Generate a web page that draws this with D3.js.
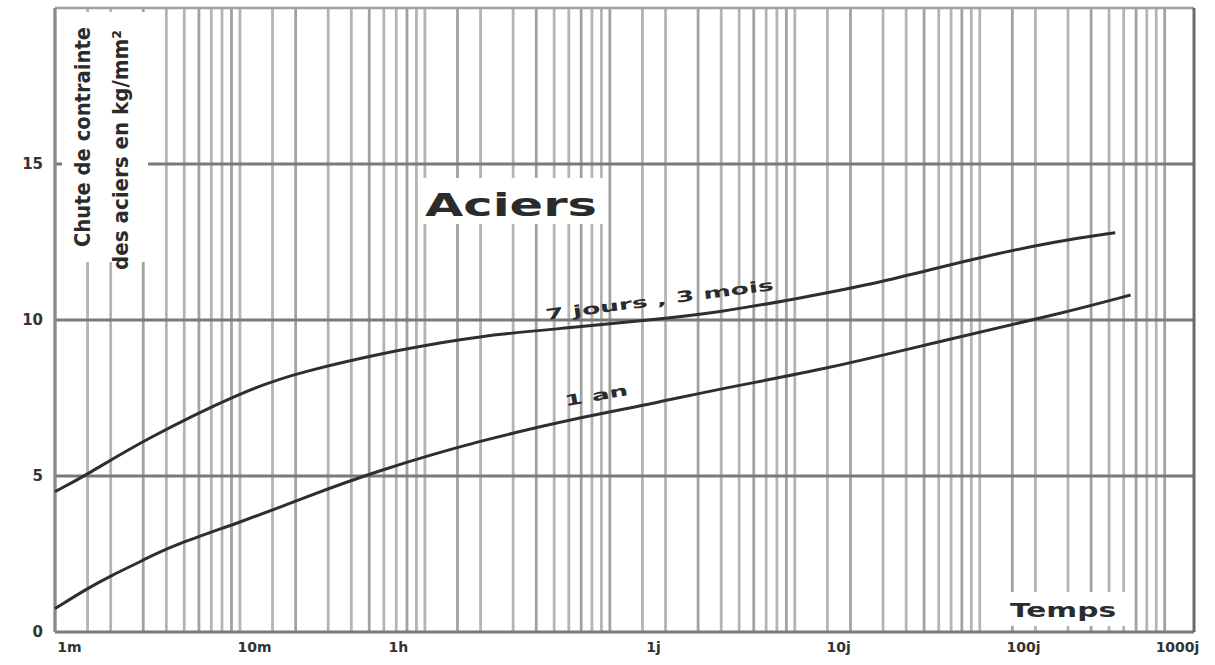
<!DOCTYPE html>
<html>
<head>
  <meta charset="UTF-8">
  <title>Aciers</title>
  <script src="https://d3js.org/d3.v7.min.js"></script>
  <style>
    body { margin: 0; background: #fff; }
    text { font-family: "DejaVu Sans", sans-serif; fill: #2b2b2b; }
  </style>
</head>
<body>
  <script>
    // time in minutes (log scale), value in kg/mm2
    var tickTimes = [1, 10, 60, 1440, 14400, 144000, 1440000];
    var tickLabels = ["1m", "10m", "1h", "1j", "10j", "100j", "1000j"];
    var yTicks = [0, 5, 10, 15];
    var gridSteps = [1, 1.5, 2, 3, 4, 5, 6, 7, 8, 9];

    var upperTimes = [1, 1.5, 3, 10.6, 21, 72, 200, 607, 1650, 3950, 10600, 29300, 89000, 273000, 540000];
    var upperValues = [4.5, 5.05, 6.15, 7.75, 8.33, 9.05, 9.5, 9.75, 10.0, 10.25, 10.7, 11.2, 11.95, 12.55, 12.8];

    var lowerTimes = [1, 1.5, 2, 3, 4.2, 11, 21, 54, 200, 785, 1650, 3950, 15500, 69500, 273000, 654000];
    var lowerValues = [0.75, 1.4, 1.8, 2.3, 2.75, 3.6, 4.25, 5.15, 6.15, 6.95, 7.3, 7.8, 8.45, 9.4, 10.2, 10.8];

    var W = 1215, H = 665;
    var m = { left: 55, right: 1194, top: 8, bottom: 632 };

    var svg = d3.select("body").append("svg")
      .attr("width", W)
      .attr("height", H);

    svg.append("defs").append("filter")
      .attr("id", "soft")
      .append("feGaussianBlur")
      .attr("stdDeviation", 0.7);

    var x = d3.scaleLog().domain([1, 1440000]).range([m.left, m.right]);
    var y = d3.scaleLinear().domain([0, 20]).range([m.bottom, m.top]);

    // log paper grid
    var gridValues = [];
    for (var k = 0; k <= 6; k++) {
      gridSteps.forEach(function (s) {
        var v = s * Math.pow(10, k);
        if (v <= 1440000) gridValues.push(v);
      });
    }

    var grid = svg.append("g").attr("filter", "url(#soft)");

    grid.selectAll("line.v")
      .data(gridValues)
      .enter()
      .append("line")
      .attr("class", "v")
      .attr("x1", function (d) { return x(d); })
      .attr("x2", function (d) { return x(d); })
      .attr("y1", m.top)
      .attr("y2", m.bottom)
      .attr("stroke", function (d, i) { return i % 3 === 0 ? "#a2a2a2" : "#b4b4b4"; })
      .attr("stroke-width", 2.8);

    grid.selectAll("line.h")
      .data(yTicks)
      .enter()
      .append("line")
      .attr("class", "h")
      .attr("x1", m.left)
      .attr("x2", m.right)
      .attr("y1", function (d) { return y(d); })
      .attr("y2", function (d) { return y(d); })
      .attr("stroke", "#7a7a7a")
      .attr("stroke-width", 3);

    grid.append("line")
      .attr("x1", m.left).attr("x2", m.right)
      .attr("y1", y(20)).attr("y2", y(20))
      .attr("stroke", "#a0a0a0").attr("stroke-width", 2.5);

    grid.append("line")
      .attr("x1", m.left).attr("x2", m.left)
      .attr("y1", m.top).attr("y2", m.bottom)
      .attr("stroke", "#8a8a8a").attr("stroke-width", 3);

    grid.append("line")
      .attr("x1", m.right).attr("x2", m.right)
      .attr("y1", m.top).attr("y2", m.bottom)
      .attr("stroke", "#6a6a6a").attr("stroke-width", 3);

    // white patches behind the labels, as on the paper
    var patches = [
      [62, 12, 86, 250],
      [418, 178, 187, 46],
      [1000, 592, 128, 34]
    ];
    svg.selectAll("rect.patch")
      .data(patches)
      .enter()
      .append("rect")
      .attr("class", "patch")
      .attr("x", function (d) { return d[0]; })
      .attr("y", function (d) { return d[1]; })
      .attr("width", function (d) { return d[2]; })
      .attr("height", function (d) { return d[3]; })
      .attr("fill", "#fff");

    // curves
    var line = d3.line()
      .x(function (d) { return x(d[0]); })
      .y(function (d) { return y(d[1]); })
      .curve(d3.curveBasis);

    var curves = [d3.zip(upperTimes, upperValues), d3.zip(lowerTimes, lowerValues)];
    svg.selectAll("path.curve")
      .data(curves)
      .enter()
      .append("path")
      .attr("class", "curve")
      .attr("d", line)
      .attr("fill", "none")
      .attr("stroke", "#2e2e2e")
      .attr("stroke-width", 3)
      .attr("filter", "url(#soft)");

    // axes
    var xAxis = d3.axisBottom(x)
      .tickValues(tickTimes)
      .tickFormat(function (d, i) { return tickLabels[i]; })
      .tickSize(0)
      .tickPadding(10);

    svg.append("g")
      .attr("transform", "translate(0," + m.bottom + ")")
      .call(xAxis)
      .call(function (g) { g.select(".domain").remove(); })
      .selectAll("text")
      .attr("dx", function (d, i) { return i === tickTimes.length - 1 ? -17 : 14; })
      .style("font-size", "14px")
      .style("font-weight", "bold")
      .style("fill", "#333");

    var yAxis = d3.axisLeft(y)
      .tickValues(yTicks)
      .tickSize(0)
      .tickPadding(12);

    svg.append("g")
      .attr("transform", "translate(" + m.left + ",0)")
      .call(yAxis)
      .call(function (g) { g.select(".domain").remove(); })
      .selectAll("text")
      .style("font-size", "15px")
      .style("font-weight", "bold")
      .style("fill", "#333");

    // y title, two rotated lines
    svg.append("text")
      .attr("transform", "translate(90,137) rotate(-90)")
      .attr("text-anchor", "middle")
      .attr("textLength", 220)
      .attr("lengthAdjust", "spacingAndGlyphs")
      .style("font-size", "21px")
      .style("font-weight", "600")
      .text("Chute de contrainte");

    svg.append("text")
      .attr("transform", "translate(128,150) rotate(-90)")
      .attr("text-anchor", "middle")
      .attr("textLength", 240)
      .attr("lengthAdjust", "spacingAndGlyphs")
      .style("font-size", "21px")
      .style("font-weight", "600")
      .text("des aciers en kg/mm²");

    svg.append("text")
      .attr("x", 511)
      .attr("y", 216)
      .attr("text-anchor", "middle")
      .attr("textLength", 172)
      .attr("lengthAdjust", "spacingAndGlyphs")
      .style("font-size", "32px")
      .style("font-weight", "bold")
      .text("Aciers");

    svg.append("text")
      .attr("x", 1063)
      .attr("y", 617)
      .attr("text-anchor", "middle")
      .attr("textLength", 106)
      .attr("lengthAdjust", "spacingAndGlyphs")
      .style("font-size", "19px")
      .style("font-weight", "600")
      .text("Temps");

    // curve labels
    svg.append("text")
      .attr("transform", "translate(" + x(1870) + "," + (y(10.0) - 15) + ") rotate(-7.5)")
      .attr("text-anchor", "middle")
      .attr("textLength", 230)
      .attr("lengthAdjust", "spacingAndGlyphs")
      .style("font-size", "15px")
      .style("font-weight", "bold")
      .text("7 jours , 3 mois");

    svg.append("text")
      .attr("transform", "translate(" + x(853) + "," + (y(7.0) - 13) + ") rotate(-10)")
      .attr("text-anchor", "middle")
      .attr("textLength", 64)
      .attr("lengthAdjust", "spacingAndGlyphs")
      .style("font-size", "15px")
      .style("font-weight", "bold")
      .text("1 an");
  </script>
</body>
</html>
